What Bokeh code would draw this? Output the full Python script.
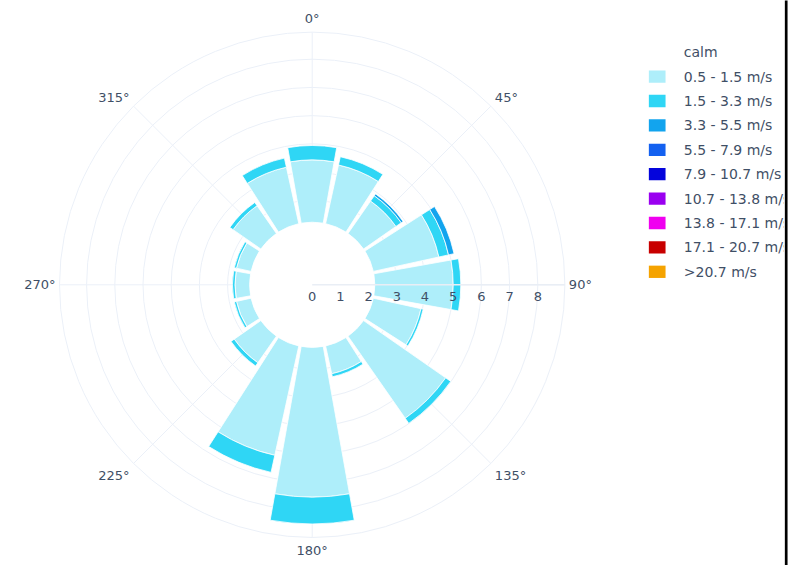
import math
from bokeh.plotting import figure
from bokeh.models import Range1d, ColumnDataSource
from bokeh.embed import file_html
from bokeh.resources import INLINE
from bokeh.core.properties import value

# ---------------- data ----------------
directions = ["N", "NNE", "NE", "ENE", "E", "ESE", "SE", "SSE",
              "S", "SSW", "SW", "WSW", "W", "WNW", "NW", "NNW"]
direction_deg = [0.0, 22.5, 45.0, 67.5, 90.0, 112.5, 135.0, 157.5,
                 180.0, 202.5, 225.0, 247.5, 270.0, 292.5, 315.0, 337.5]

calm_value = 2.22

series_names = ["0.5 - 1.5 m/s", "1.5 - 3.3 m/s", "3.3 - 5.5 m/s", "5.5 - 7.9 m/s",
                "7.9 - 10.7 m/s", "10.7 - 13.8 m/s", "13.8 - 17.1 m/s",
                "17.1 - 20.7 m/s", ">20.7 m/s"]

speed_0_5_1_5 = [2.21, 2.13, 1.40, 2.38, 2.78, 1.73, 3.55, 1.01,
                 5.31, 3.97, 1.15, 0.53, 0.52, 0.53, 1.20, 2.05]
speed_1_5_3_3 = [0.51, 0.30, 0.23, 0.35, 0.27, 0.08, 0.22, 0.11,
                 0.95, 0.62, 0.14, 0.08, 0.09, 0.08, 0.14, 0.33]
speed_3_3_5_5 = [0.00, 0.00, 0.08, 0.20, 0.00, 0.00, 0.00, 0.00,
                 0.00, 0.00, 0.00, 0.00, 0.00, 0.00, 0.00, 0.00]
speed_5_5_7_9 = [0.00, 0.00, 0.00, 0.00, 0.00, 0.00, 0.00, 0.00,
                 0.00, 0.00, 0.00, 0.00, 0.00, 0.00, 0.00, 0.00]
speed_7_9_10_7 = [0.00, 0.00, 0.00, 0.00, 0.00, 0.00, 0.00, 0.00,
                  0.00, 0.00, 0.00, 0.00, 0.00, 0.00, 0.00, 0.00]
speed_10_7_13_8 = [0.00, 0.00, 0.00, 0.00, 0.00, 0.00, 0.00, 0.00,
                   0.00, 0.00, 0.00, 0.00, 0.00, 0.00, 0.00, 0.00]
speed_13_8_17_1 = [0.00, 0.00, 0.00, 0.00, 0.00, 0.00, 0.00, 0.00,
                   0.00, 0.00, 0.00, 0.00, 0.00, 0.00, 0.00, 0.00]
speed_17_1_20_7 = [0.00, 0.00, 0.00, 0.00, 0.00, 0.00, 0.00, 0.00,
                   0.00, 0.00, 0.00, 0.00, 0.00, 0.00, 0.00, 0.00]
speed_over_20_7 = [0.00, 0.00, 0.00, 0.00, 0.00, 0.00, 0.00, 0.00,
                   0.00, 0.00, 0.00, 0.00, 0.00, 0.00, 0.00, 0.00]

series_values = [speed_0_5_1_5, speed_1_5_3_3, speed_3_3_5_5, speed_5_5_7_9,
                 speed_7_9_10_7, speed_10_7_13_8, speed_13_8_17_1,
                 speed_17_1_20_7, speed_over_20_7]

series_colors = ["#aeeefa", "#2fd6f5", "#12a4ee", "#1461f0", "#0404dc",
                 "#9a00f0", "#f000f0", "#c80000", "#f5a300"]

radial_ticks = [0, 1, 2, 3, 4, 5, 6, 7, 8]
radial_max = 8.96
angular_ticks = [0, 45, 90, 135, 180, 225, 270, 315]
angular_labels = ["0°", "45°", "90°", "135°", "180°", "225°", "270°", "315°"]

# ---------------- layout ----------------
W, H = 797, 565
cx_px, cy_px, ppu = 311.7, 284.3, 28.2   # polar centre in pixels, pixels per unit
grid_color = "#ebf0f8"
font_color = "#3f4f66"
FONT = "DejaVu Sans"
bargap = 0.1


def X(px):
    return (px - cx_px) / ppu


def Y(py):
    return (cy_px - py) / ppu


p = figure(width=W, height=H, output_backend="svg", toolbar_location=None,
           x_range=Range1d(X(0), X(W)), y_range=Range1d(Y(H), Y(0)),
           x_axis_location=None, y_axis_location=None, min_border=0)
p.xgrid.visible = False
p.ygrid.visible = False
p.outline_line_color = None
p.background_fill_color = "white"
p.border_fill_color = "white"

# grid circles + outer line
grid_r = [r for r in radial_ticks if r > 0] + [radial_max]
p.circle(x=[0] * len(grid_r), y=[0] * len(grid_r), radius=grid_r,
         fill_color=None, line_color=grid_color, line_width=1)

# angular grid spokes
p.segment(x0=[0] * len(angular_ticks), y0=[0] * len(angular_ticks),
          x1=[radial_max * math.sin(math.radians(a)) for a in angular_ticks],
          y1=[radial_max * math.cos(math.radians(a)) for a in angular_ticks],
          line_color=grid_color, line_width=1)

# calm disc (white)
p.annular_wedge(x=0, y=0, inner_radius=0, outer_radius=calm_value,
                start_angle=0, end_angle=2 * math.pi,
                fill_color="white", line_color=None)

# stacked bars
half = 360.0 / len(directions) * (1 - bargap) / 2
base = [calm_value] * len(directions)
for vals, col in zip(series_values, series_colors):
    inner, outer, sa, ea = [], [], [], []
    for k, v in enumerate(vals):
        if v > 0:
            inner.append(base[k])
            outer.append(base[k] + v)
            sa.append(math.radians(90 - direction_deg[k] - half))
            ea.append(math.radians(90 - direction_deg[k] + half))
        base[k] += v
    if inner:
        src = ColumnDataSource(dict(x=[0] * len(inner), y=[0] * len(inner),
                                    ir=inner, orr=outer, sa=sa, ea=ea))
        p.annular_wedge(x="x", y="y", inner_radius="ir", outer_radius="orr",
                        start_angle="sa", end_angle="ea", source=src,
                        fill_color=col, line_color="white", line_width=0.8)

# radial axis line (above traces)
p.segment(x0=[0], y0=[0], x1=[radial_max], y1=[0], line_color="#e9eef5", line_width=1.5)

# radial tick labels
p.text(x=radial_ticks, y=[-7 / ppu] * len(radial_ticks),
       text=[str(t) for t in radial_ticks],
       text_font=value(FONT), text_font_size="13px", text_color=font_color,
       text_align="center", text_baseline="top")

# angular tick labels
for a, lab in zip(angular_ticks, angular_labels):
    s_, c_ = math.sin(math.radians(a)), math.cos(math.radians(a))
    x0, y0 = radial_max * s_, radial_max * c_
    if abs(s_) < 0.1:          # top / bottom
        align = "center"
        bl = "bottom" if c_ > 0 else "top"
        dx, dy = 0.0, (6 if c_ > 0 else -6)
    elif abs(c_) < 0.1:        # left / right
        align = "left" if s_ > 0 else "right"
        bl = "middle"
        dx, dy = (4 if s_ > 0 else -4), 0.0
    else:                      # diagonals
        align = "left" if s_ > 0 else "right"
        bl = "middle"
        dx, dy = (4 if s_ > 0 else -4), (9 if c_ > 0 else -12)
    p.text(x=[x0 + dx / ppu], y=[y0 + dy / ppu], text=[lab],
           text_font=value(FONT), text_font_size="13px", text_color=font_color,
           text_align=align, text_baseline=bl)

# legend
leg_names = ["calm"] + series_names
leg_colors = ["white"] + series_colors
leg_y = [51.7 + 24.4 * i for i in range(len(leg_names))]
p.rect(x=[X(656.7)] * len(leg_names), y=[Y(v) for v in leg_y],
       width=16.7 / ppu, height=12.3 / ppu, fill_color=leg_colors, line_color=None)
p.text(x=[X(683.3)] * len(leg_names), y=[Y(v) for v in leg_y], text=leg_names,
       text_font=value(FONT), text_font_size="14px", text_color=font_color,
       text_align="left", text_baseline="middle")

# clipped right edge with black border
p.quad(left=[X(783.5)], right=[X(W + 5)], bottom=[Y(H + 5)], top=[Y(-5)],
       fill_color="white", line_color=None)
p.segment(x0=[X(785.7)], y0=[Y(-5)], x1=[X(785.7)], y1=[Y(H + 5)],
          line_color="black", line_width=2.7)

open("out.html", "w").write(file_html(p, INLINE))
